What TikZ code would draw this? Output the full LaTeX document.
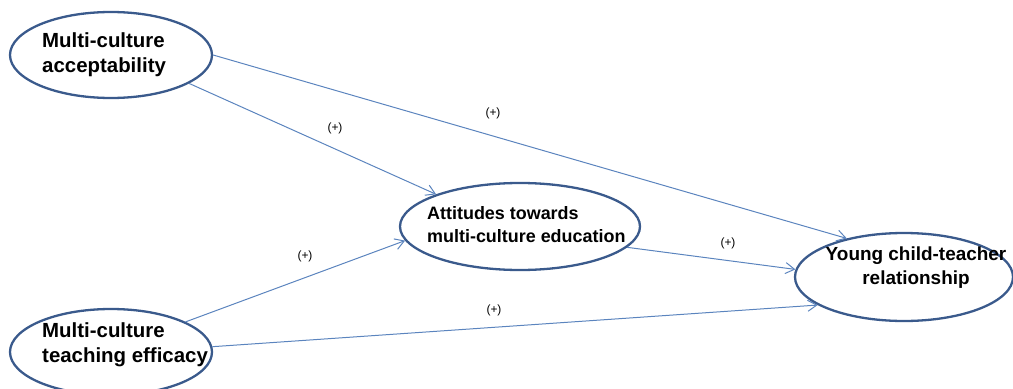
\documentclass[tikz,border=0pt]{standalone}
\usepackage{fontspec}
\setmainfont{Liberation Sans}
\usetikzlibrary{shapes.geometric,arrows.meta}
\definecolor{ellcol}{HTML}{3A5A8C}
\definecolor{arrcol}{HTML}{5B84BE}
\tikzset{
  ell/.style={draw=ellcol, line width=2.3bp, ellipse, inner sep=0pt},
  big/.style={font=\bfseries\fontsize{20.5}{25}\selectfont, align=left, inner sep=0pt},
  mid/.style={font=\bfseries\fontsize{18}{23}\selectfont, align=left, inner sep=0pt},
  midc/.style={font=\bfseries\fontsize{19}{24}\selectfont, align=center, inner sep=0pt},
  arr/.style={draw=arrcol, line width=1bp, -{Straight Barb[length=9bp,width=11bp]}},
  plus/.style={font=\fontsize{12}{14}\selectfont, inner sep=0pt}
}
\begin{document}
\begin{tikzpicture}[x=1bp,y=1bp]
\useasboundingbox (0,0) rectangle (1013,388);
% ellipses (y = 388 - image y)
\node[ell, minimum width=202bp, minimum height=86bp] (e1) at (111,333) {};
\node[ell, minimum width=202bp, minimum height=86bp] (e2) at (111,36) {};
\node[ell, minimum width=240bp, minimum height=87bp] (e3) at (520,161.5) {};
\node[ell, minimum width=218bp, minimum height=88bp] (e4) at (904,111) {};
% texts
\node[big, anchor=west] (t1) at (42,333) {Multi-culture\\acceptability};
\node[big, anchor=west] (t2) at (42,43) {Multi-culture\\teaching efficacy};
\node[mid, anchor=west] (t3) at (427,163) {Attitudes towards\\multi-culture education};
\node[midc] (t4) at (916,120) {Young child-teacher\\relationship};
% arrows
\draw[arr] (e1.0) -- (e4.146);
\draw[arr] (e1.-20) -- (e3.159);
\draw[arr] (e2.22) -- (e3.187);
\draw[arr] (e2.3) -- (e4.198);
\draw[arr] (e3.-11) -- (e4.176);
% labels
\node[plus] (p1) at (335,260) {(+)};
\node[plus] (p2) at (493,275) {(+)};
\node[plus] (p3) at (305,132) {(+)};
\node[plus] (p4) at (728,145) {(+)};
\node[plus] (p5) at (494,78) {(+)};
\end{tikzpicture}
\end{document}
